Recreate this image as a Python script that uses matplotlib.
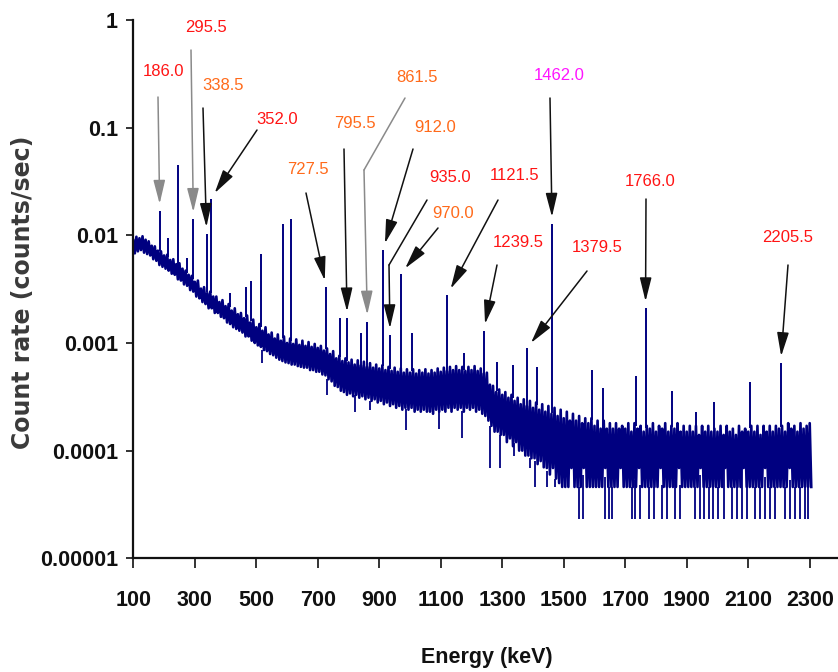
import numpy as np
import matplotlib
matplotlib.use("Agg")
import matplotlib.pyplot as plt

# ---------------- data ----------------
# continuum sampled every 10 keV (100 ... 2300 keV); upper / lower edge of the noisy band, units of 1e-4 counts/sec
band_energy = np.arange(100, 2301, 10)
band_hi = [
    90, 97, 94, 98, 91, 88, 80, 79, 72, 71,
    65, 66, 59, 60, 54, 55, 49, 47, 43, 42,
    37, 38, 32, 33, 29, 30, 27, 27, 24, 25,
    22, 23, 20, 21, 18.5, 19, 17, 18, 15.5, 16.5,
    14, 15, 13, 14, 12, 12.5, 11, 12, 10.5, 11.5,
    10, 11, 9.8, 10.8, 9.6, 10.5, 9.4, 10.2, 9.2, 9.8,
    9.0, 9.4, 8.5, 8.9, 7.9, 8.4, 7.2, 7.6, 6.8, 7.2,
    6.6, 7.0, 6.3, 6.9, 6.2, 6.7, 6.0, 6.5, 5.9, 6.3,
    5.8, 6.2, 5.6, 6.0, 5.5, 5.9, 5.4, 5.8, 5.3, 5.7,
    5.3, 5.7, 5.2, 5.6, 5.3, 5.7, 5.2, 5.6, 5.3, 5.8,
    5.4, 5.9, 5.5, 6.0, 5.6, 6.1, 5.6, 6.0, 5.5, 6.0,
    5.6, 6.1, 5.5, 5.8, 5.2, 5.3, 4.1, 4.0, 3.5, 3.7,
    3.3, 3.5, 3.1, 3.3, 2.9, 3.1, 2.7, 3.0, 2.6, 2.9,
    2.5, 2.8, 2.4, 2.7, 2.3, 2.6, 2.2, 2.5, 2.1, 2.4,
    2.0, 2.3, 1.9, 2.2, 1.9, 2.1, 1.8, 2.0, 1.8, 2.0,
    1.7, 1.9, 1.6, 1.9, 1.6, 1.8, 1.6, 1.8, 1.6, 1.7,
    1.6, 1.8, 1.5, 1.8, 1.6, 1.7, 1.5, 1.7, 1.6, 1.8,
    1.5, 1.7, 1.6, 1.8, 1.5, 1.7, 1.6, 1.8, 1.5, 1.7,
    1.5, 1.7, 1.5, 1.7, 1.4, 1.7, 1.5, 1.7, 1.5, 1.6,
    1.5, 1.7, 1.4, 1.7, 1.5, 1.6, 1.4, 1.7, 1.5, 1.6,
    1.5, 1.7, 1.5, 1.7, 1.4, 1.7, 1.5, 1.7, 1.5, 1.7,
    1.6, 1.7, 1.5, 1.8, 1.6, 1.7, 1.5, 1.8, 1.6, 1.7, 1.8,
]
band_lo = [
    68, 71, 73, 69, 67, 65, 60, 58, 53, 51,
    49, 47, 44, 43, 39, 38, 35, 34, 31, 30,
    27, 26, 24, 23, 21, 21, 19, 19, 17.5, 17,
    15.5, 15, 14, 13.5, 13, 12.5, 11.5, 11.5, 10.5, 10,
    9.5, 9.2, 8.6, 8.4, 7.9, 7.7, 7.3, 7.0, 6.8, 6.6,
    6.5, 6.3, 6.3, 6.1, 6.0, 5.9, 5.9, 5.6, 5.6, 5.4,
    5.4, 5.1, 5.0, 4.6, 4.4, 4.0, 3.9, 3.6, 3.5, 3.3,
    3.4, 3.2, 3.3, 3.1, 3.2, 3.0, 3.1, 2.9, 3.0, 2.8,
    2.9, 2.7, 2.8, 2.6, 2.7, 2.5, 2.6, 2.4, 2.5, 2.4,
    2.5, 2.3, 2.4, 2.3, 2.4, 2.3, 2.3, 2.2, 2.4, 2.3,
    2.4, 2.3, 2.5, 2.3, 2.5, 2.4, 2.5, 2.3, 2.5, 2.4,
    2.5, 2.3, 2.4, 2.2, 2.1, 1.9, 1.7, 1.5, 1.5, 1.4,
    1.4, 1.2, 1.3, 1.1, 1.2, 1.0, 1.0, 0.9, 0.9, 0.85,
    0.85, 0.75, 0.8, 0.7, 0.69, 0.6, 0.69, 0.55, 0.5, 0.46,
    0.46, 0.46, 0.69, 0.46, 0.46, 0.46, 0.69, 0.46, 0.46, 0.46,
    0.46, 0.46, 0.46, 0.69, 0.46, 0.46, 0.46, 0.46, 0.69, 0.46,
    0.46, 0.46, 0.46, 0.46, 0.69, 0.46, 0.46, 0.46, 0.46, 0.46,
    0.46, 0.69, 0.46, 0.46, 0.46, 0.46, 0.46, 0.69, 0.46, 0.46,
    0.46, 0.46, 0.46, 0.46, 0.69, 0.46, 0.46, 0.46, 0.46, 0.46,
    0.46, 0.46, 0.69, 0.46, 0.46, 0.46, 0.46, 0.46, 0.69, 0.46,
    0.46, 0.46, 0.46, 0.46, 0.46, 0.69, 0.46, 0.46, 0.46, 0.46,
    0.46, 0.46, 0.46, 0.69, 0.46, 0.46, 0.46, 0.46, 0.46, 0.46, 0.46,
]

# gamma-ray peaks: energy (keV) and peak count rate (counts/sec)
peak_energy = [100.5, 186.0, 214, 246, 276, 295.5, 338.5, 352.0, 415, 466, 484, 515, 587, 614,
               727.5, 773, 795.5, 841, 861.5, 912.0, 935.0, 970.0, 1006, 1121.5, 1177,
               1239.5, 1284, 1336, 1379.5, 1414, 1462.0, 1593, 1629, 1736, 1766.0, 1853,
               1930, 1990, 2107, 2205.5]
peak_rate = [0.025, 0.0169, 0.0095, 0.045, 0.0061, 0.0142, 0.0103, 0.0218, 0.0029, 0.0033,
             0.0038, 0.0067, 0.0128, 0.0142, 0.0033, 0.00172, 0.00169, 0.00123, 0.00158,
             0.0073, 0.00118, 0.0044, 0.00123, 0.0028, 0.0008, 0.0013, 0.00066, 0.00062,
             0.00089, 0.0006, 0.0128, 0.00056, 0.00038, 0.00049, 0.0021, 0.00036, 0.00023,
             0.00028, 0.00043, 0.00065]

# low-count channels dropping below the band (energy keV, rate in 1e-4 counts/sec)
dip_energy = [520, 730, 822, 870, 988, 1095, 1169, 1261, 1293, 1338, 1391, 1405, 1445, 1470, 1490,
              1548, 1564, 1635, 1646, 1657, 1722, 1733, 1749, 1776, 1792,
              1819, 1836, 1863, 1879, 1928, 1944, 1955, 1971, 1987, 2003,
              2020, 2047, 2063, 2080, 2096, 2123, 2139, 2155, 2172, 2188,
              2220, 2237, 2253, 2269, 2286, 2296]
dip_rate = [6.5, 3.3, 2.3, 2.4, 1.55, 1.6, 1.3, 0.69, 0.69, 0.9, 0.69, 0.46, 0.46, 0.46, 0.46,
            0.23, 0.23, 0.23, 0.23, 0.23, 0.23, 0.23, 0.23, 0.23, 0.23,
            0.23, 0.23, 0.23, 0.23, 0.23, 0.23, 0.23, 0.23, 0.23, 0.23,
            0.23, 0.23, 0.23, 0.23, 0.23, 0.23, 0.23, 0.23, 0.23, 0.23,
            0.23, 0.23, 0.23, 0.23, 0.23, 0.23]

# annotated peaks
ann_labels = ['186.0', '295.5', '338.5', '352.0', '727.5', '795.5', '861.5', '912.0',
              '935.0', '970.0', '1121.5', '1239.5', '1379.5', '1462.0', '1766.0', '2205.5']
ann_groups = ['r', 'r', 'o', 'r', 'o', 'o', 'o', 'o', 'r', 'o', 'r', 'r', 'r', 'm', 'r', 'r']

x_ticks = [100, 300, 500, 700, 900, 1100, 1300, 1500, 1700, 1900, 2100, 2300]
y_ticks = [1e-5, 1e-4, 1e-3, 1e-2, 1e-1, 1]
y_ticklabels = ['0.00001', '0.0001', '0.001', '0.01', '0.1', '1']

# ---------------- layout / style ----------------
W, H = 838, 672
NAVY = '#000080'
TXT_COL = {'r': '#FF1414', 'o': '#FF6A1A', 'm': '#FF14FF'}
SANS = ['Liberation Sans', 'DejaVu Sans']

# label centre, arrow tail, optional bend (pixels, image coords y down), arrow colour
ann_text_px = [(163, 72), (206, 28), (223, 85), (277, 120), (308, 170), (355, 123),
               (417, 78), (435, 128), (450, 178), (453, 213), (515, 175), (518, 243),
               (597, 247), (559, 75), (650, 182), (788, 237)]
ann_tail_px = [(158, 97), (191, 50), (203, 108), (257, 130), (306, 193), (344, 149),
               (405, 98), (413, 149), (427, 200), (438, 228), (498, 200), (497, 265),
               (587, 271), (550, 98), (646, 199), (788, 265)]
ann_bend_px = [None, None, None, None, None, None, (364, 170), None, (389, 265), None,
               None, None, None, None, None, None]
ann_arrow_col = ['#8a8a8a', '#8a8a8a', '#111111', '#111111', '#111111', '#111111',
                 '#8a8a8a', '#111111', '#111111', '#111111', '#111111', '#111111',
                 '#111111', '#111111', '#111111', '#111111']

fig = plt.figure(figsize=(W / 100, H / 100), dpi=100)
x0, x1, yb, yt = 133.3, 838, 558.3, 20
ax = fig.add_axes([x0 / W, 1 - yb / H, (x1 - x0) / W, (yb - yt) / H])
ax.set_yscale('log')
ax.set_xlim(100, 2392)
ax.set_ylim(1e-5, 1)

hi = np.array(band_hi) * 1e-4
lo = np.array(band_lo) * 1e-4
zx = np.column_stack([band_energy, band_energy + 5]).ravel()
zy = np.column_stack([hi, lo]).ravel()
ax.plot(zx, zy, color=NAVY, lw=1.9, solid_joinstyle='round')

d_e = np.array(dip_energy, float)
ax.vlines(d_e, np.array(dip_rate) * 1e-4, np.interp(d_e, band_energy, lo), color=NAVY, lw=1.3)

p_e = np.array(peak_energy, float)
ax.vlines(p_e, np.interp(p_e, band_energy, hi), peak_rate, color=NAVY, lw=1.4)

for s in ['top', 'right']:
    ax.spines[s].set_visible(False)
for s in ['left', 'bottom']:
    ax.spines[s].set_linewidth(1.6)
    ax.spines[s].set_color('#111111')

ax.set_xticks(x_ticks)
ax.set_xticklabels([str(v) for v in x_ticks])
ax.set_yticks(y_ticks)
ax.set_yticklabels(y_ticklabels)
ax.minorticks_off()
ax.tick_params(axis='x', direction='out', length=7, width=1.2, pad=16, colors='#111111')
ax.tick_params(axis='y', direction='out', length=5, width=1.2, pad=6, colors='#111111')
for lab in ax.get_xticklabels() + ax.get_yticklabels():
    lab.set_fontfamily(SANS)
    lab.set_fontweight('bold')
    lab.set_fontsize(15.5)

fig.text(487 / W, 1 - 657 / H, 'Energy (keV)', ha='center', va='center',
         fontfamily=SANS, fontweight='bold', fontsize=15.5, color='#111111')
fig.text(23 / W, 1 - 292 / H, 'Count rate (counts/sec)', ha='center', va='center',
         rotation=90, fontfamily=['DejaVu Sans'], fontweight='bold', fontsize=17,
         color='#3a3a3a')

for i, lab in enumerate(ann_labels):
    k = peak_energy.index(float(lab))
    tip = (peak_energy[k], peak_rate[k])
    tx, ty = ann_text_px[i]
    fig.text(tx / W, 1 - ty / H, lab, ha='center', va='center', fontfamily=SANS,
             fontsize=12, color=TXT_COL[ann_groups[i]])
    tail = ann_tail_px[i]
    start = (tail[0], H - tail[1])
    col = ann_arrow_col[i]
    if ann_bend_px[i] is not None:
        b = ann_bend_px[i]
        bend = (b[0], H - b[1])
        ax.annotate('', xy=bend, xycoords='figure pixels', xytext=start,
                    textcoords='figure pixels',
                    arrowprops=dict(arrowstyle='-', color=col, lw=1.1,
                                    shrinkA=0, shrinkB=0))
        start = bend
    ax.annotate('', xy=tip, xycoords='data', xytext=start, textcoords='figure pixels',
                arrowprops=dict(arrowstyle='-|>,head_length=1.45,head_width=0.36',
                                mutation_scale=10, color=col, lw=1.1,
                                shrinkA=0, shrinkB=5))

fig.savefig('out.png', dpi=100)
